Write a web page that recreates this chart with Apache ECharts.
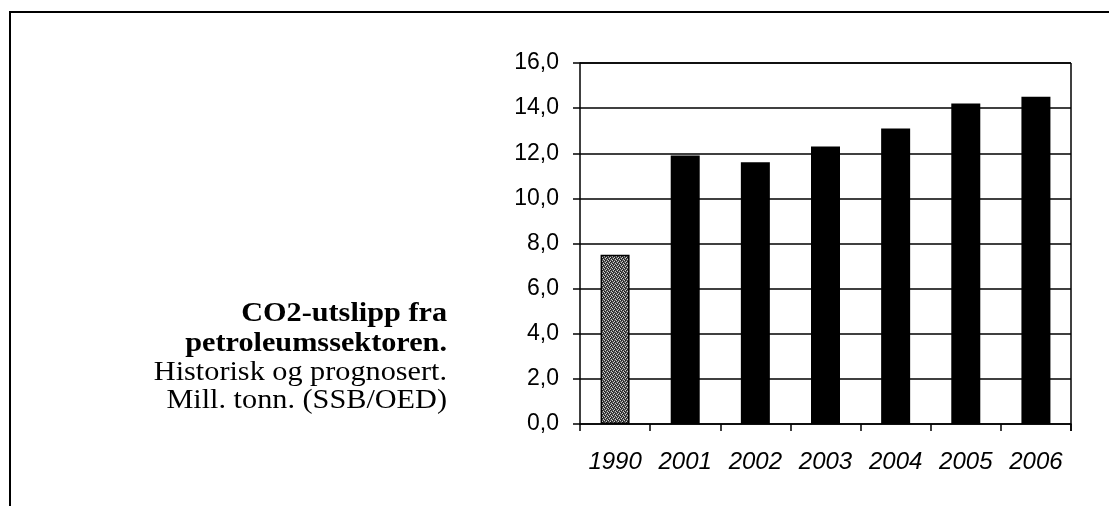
<!DOCTYPE html>
<html>
<head>
<meta charset="utf-8">
<script src="https://cdn.jsdelivr.net/npm/echarts@6/dist/echarts.min.js"></script>
<style>
html,body{margin:0;padding:0;background:#fff;}
#chart{width:1109px;height:506px;}
</style>
</head>
<body>
<div id="chart"></div>
<script>
var categories = ['1990', '2001', '2002', '2003', '2004', '2005', '2006'];
var values = [7.5, 11.9, 11.6, 12.3, 13.1, 14.2, 14.5];
var titleLines = ['CO2-utslipp fra', 'petroleumssektoren.', 'Historisk og prognosert.', 'Mill. tonn. (SSB/OED)'];

// stippled grey fill for the 1990 bar (fixed dither pattern)
var pc = document.createElement('canvas');
pc.width = 4; pc.height = 4;
var pctx = pc.getContext('2d');
pctx.fillStyle = '#555'; pctx.fillRect(0, 0, 4, 4);
pctx.fillStyle = '#d0d0d0';
[[0,0],[2,1],[1,2],[3,3]].forEach(function (p) { pctx.fillRect(p[0], p[1], 1, 1); });
pctx.fillStyle = '#1a1a1a';
[[1,0],[0,3],[2,2],[3,1]].forEach(function (p) { pctx.fillRect(p[0], p[1], 1, 1); });

var chart = echarts.init(document.getElementById('chart'), null, {renderer: 'canvas'});
var data = values.map(function (v, i) {
  if (i === 0) {
    return {value: v, itemStyle: {color: {image: pc, repeat: 'repeat'}, borderColor: '#000', borderWidth: 1.5}};
  }
  return {value: v, itemStyle: {color: '#000'}};
});

var titleX = 447;
var titleY = [314, 344, 373, 401];
var graphics = [
  {type: 'line', shape: {x1: 9, y1: 12, x2: 1109, y2: 12}, style: {stroke: '#000', lineWidth: 2}},
  {type: 'line', shape: {x1: 10, y1: 12, x2: 10, y2: 506}, style: {stroke: '#000', lineWidth: 2}},
  {type: 'line', shape: {x1: 580, y1: 63, x2: 1071, y2: 63}, style: {stroke: '#000', lineWidth: 1.5}},
  {type: 'line', shape: {x1: 1071, y1: 63, x2: 1071, y2: 431}, style: {stroke: '#000', lineWidth: 1.5}}
];
titleLines.forEach(function (t, i) {
  graphics.push({
    type: 'text', x: titleX, y: titleY[i], scaleX: 1.12,
    style: {
      text: t, align: 'right', verticalAlign: 'middle', fill: '#000',
      font: (i < 2 ? 'bold ' : '') + '27px "Liberation Serif", "Times New Roman", serif'
    }
  });
});

chart.setOption({
  animation: false,
  backgroundColor: '#fff',
  grid: {left: 580, right: 38, top: 63, bottom: 82, containLabel: false},
  xAxis: {
    type: 'category',
    data: categories,
    axisLine: {show: true, lineStyle: {color: '#000', width: 1.5}},
    axisTick: {show: true, alignWithLabel: false, length: 7, lineStyle: {color: '#000', width: 1.5}},
    axisLabel: {color: '#000', fontSize: 24, fontStyle: 'italic', fontFamily: '"Liberation Sans", Arial, sans-serif', margin: 26},
    splitLine: {show: false}
  },
  yAxis: {
    type: 'value',
    min: 0, max: 16, interval: 2,
    axisLine: {show: true, lineStyle: {color: '#000', width: 1.5}},
    axisTick: {show: true, length: 7, lineStyle: {color: '#000', width: 1.5}},
    axisLabel: {
      color: '#000', fontSize: 23, fontFamily: '"Liberation Sans", Arial, sans-serif', margin: 21,
      formatter: function (v) { return v.toFixed(1).replace('.', ','); }
    },
    splitLine: {show: true, lineStyle: {color: '#000', width: 1.5}}
  },
  series: [{
    type: 'bar',
    data: data,
    barWidth: 29
  }],
  graphic: graphics
});
</script>
</body>
</html>
